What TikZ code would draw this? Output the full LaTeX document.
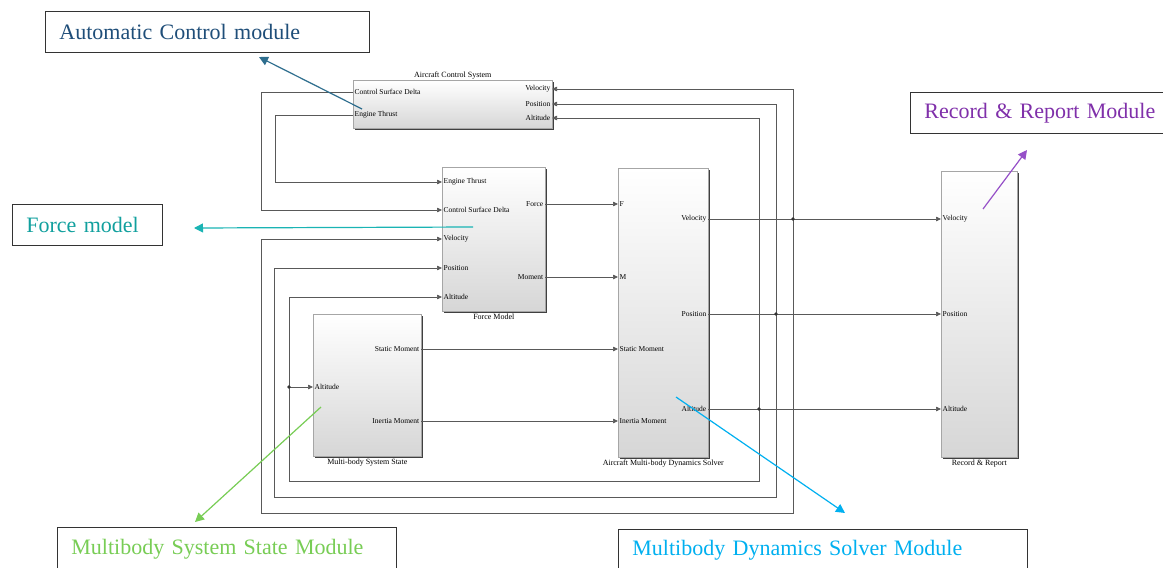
\documentclass[tikz,border=0pt]{standalone}
\usepackage{fontspec}
\setmainfont{Liberation Serif}
\usetikzlibrary{arrows.meta,positioning,shadows}
\definecolor{ControlBlue}{RGB}{31,78,121}
\definecolor{ControlArrow}{RGB}{46,110,142}
\definecolor{ForceTeal}{RGB}{17,160,158}
\definecolor{ForceArrow}{RGB}{26,180,180}
\definecolor{RecordPurple}{RGB}{128,48,170}
\definecolor{RecordArrow}{RGB}{150,80,200}
\definecolor{StateGreen}{RGB}{120,205,85}
\definecolor{SolverCyan}{RGB}{0,176,240}

\begin{document}
\begin{tikzpicture}[x=1pt,y=-1pt,
  blk/.style={draw=gray!70,line width=0.6pt,top color=white,middle color=gray!3,bottom color=gray!32,
    drop shadow={shadow xshift=1.6pt,shadow yshift=-1.6pt,fill=black!75,opacity=1},
    anchor=north west,inner sep=0pt},
  lport/.style={anchor=west,inner sep=1.5pt,font=\fontsize{7.5}{8}\selectfont},
  rport/.style={anchor=east,inner sep=1.5pt,font=\fontsize{7.5}{8}\selectfont},
  title/.style={inner sep=1pt,font=\fontsize{8}{9}\selectfont},
  wire/.style={draw=black!65,line width=0.7pt,-{Triangle[length=5pt,width=4.5pt]}},
  note/.style={draw=black!80,line width=0.8pt,anchor=north west,align=left,inner xsep=14pt,
    text width=#1,minimum height=41pt,font=\fontsize{22}{26}\selectfont},
  pointer/.style={line width=1.2pt,-{Triangle[length=9pt,width=9pt]}}]
  \useasboundingbox (0,0) rectangle (1163,568);
  \fill[white] (0,0) rectangle (1163,568);

  % blocks
  \node[blk,minimum width=199pt,minimum height=48pt] (acs) at (353,80) {};
  \node[blk,minimum width=103pt,minimum height=144pt] (fm) at (442,167) {};
  \node[blk,minimum width=90pt,minimum height=289pt] (solver) at (618,168) {};
  \node[blk,minimum width=108pt,minimum height=142pt] (mss) at (313,314) {};
  \node[blk,minimum width=76pt,minimum height=286pt] (rr) at (941,171) {};
  \node[title,above=0pt of acs] {Aircraft Control System};
  \node[title,below=1pt of fm] {Force Model};
  \node[title,below=1pt of solver] {Aircraft Multi-body Dynamics Solver};
  \node[title,below=1pt of mss] {Multi-body System State};
  \node[title,below=1pt of rr] {Record \& Report};

  % ports
  \node[lport] (aCSD) at (353,92) {Control Surface Delta};
  \node[lport] (aET) at (353,115) {Engine Thrust};
  \node[rport] (aVel) at (552,89) {Velocity};
  \node[rport] (aPos) at (552,104) {Position};
  \node[rport] (aAlt) at (552,118) {Altitude};

  \node[lport] (fET) at (442,182) {Engine Thrust};
  \node[lport] (fCSD) at (442,210) {Control Surface Delta};
  \node[lport] (fVel) at (442,239) {Velocity};
  \node[lport] (fPos) at (442,268) {Position};
  \node[lport] (fAlt) at (442,297) {Altitude};
  \node[rport] (fF) at (545,204) {Force};
  \node[rport] (fM) at (545,277) {Moment};

  \node[lport] (sF) at (618,204) {F};
  \node[lport] (sM) at (618,277) {M};
  \node[lport] (sSM) at (618,349) {Static Moment};
  \node[lport] (sIM) at (618,421) {Inertia Moment};
  \node[rport] (sVel) at (708,219) {Velocity};
  \node[rport] (sPos) at (708,314) {Position};
  \node[rport] (sAlt) at (708,409) {Altitude};

  \node[lport] (mAlt) at (313,387) {Altitude};
  \node[rport] (mSM) at (421,349) {Static Moment};
  \node[rport] (mIM) at (421,421) {Inertia Moment};

  \node[lport] (rVel) at (941,219) {Velocity};
  \node[lport] (rPos) at (941,314) {Position};
  \node[lport] (rAlt) at (941,409) {Altitude};

  % signal lines
  \coordinate (velSplit) at (793,219);
  \coordinate (posSplit) at (776,314);
  \coordinate (altSplit) at (759,409);
  \coordinate (velLow) at (261,513);
  \coordinate (posLow) at (274,497);
  \coordinate (altLow) at (289,481);
  \coordinate (altTap) at (289,387);
  \coordinate (csdBend) at (261,210);
  \coordinate (etBend) at (275,182);

  \draw[wire] (aCSD.west) -| (csdBend) -- (fCSD.west);
  \draw[wire] (aET.west) -| (etBend) -- (fET.west);
  \draw[wire] (fF.east) -- (sF.west);
  \draw[wire] (fM.east) -- (sM.west);
  \draw[wire] (mSM.east) -- (sSM.west);
  \draw[wire] (mIM.east) -- (sIM.west);
  \draw[wire] (sVel.east) -- (rVel.west);
  \draw[wire] (sPos.east) -- (rPos.west);
  \draw[wire] (sAlt.east) -- (rAlt.west);
  \draw[wire] (velSplit) |- (aVel.east);
  \draw[wire] (posSplit) |- (aPos.east);
  \draw[wire] (altSplit) |- (aAlt.east);
  \draw[wire] (velSplit) |- (velLow) |- (fVel.west);
  \draw[wire] (posSplit) |- (posLow) |- (fPos.west);
  \draw[wire] (altSplit) |- (altLow) |- (fAlt.west);
  \draw[wire] (altTap) -- (mAlt.west);
  \foreach \p in {velSplit,posSplit,altSplit,altTap}
    \fill[black!80] (\p) circle (1.8pt);

  % module notes
  \node[note=296pt,text=ControlBlue] (autoNote) at (45,11) {Automatic Control module};
  \node[note=122pt,text=ForceTeal] (forceNote) at (12,204) {Force model};
  \node[note=250pt,text=RecordPurple] (recordNote) at (910,92) {Record \& Report Module};
  \node[note=311pt,text=StateGreen,minimum height=44pt] (stateNote) at (57,527) {Multibody System State Module};
  \node[note=381pt,text=SolverCyan,minimum height=42pt] (solverNote) at (618,529) {Multibody Dynamics Solver Module};

  \coordinate (autoFrom) at (362,109);
  \coordinate (autoTip) at (259,57);
  \coordinate (forceFrom) at (473,227);
  \coordinate (forceTip) at (194,228);
  \coordinate (recordFrom) at (983,209);
  \coordinate (recordTip) at (1027,150);
  \coordinate (stateFrom) at (321,407);
  \coordinate (stateTip) at (195,522);
  \coordinate (solverFrom) at (676,397);
  \coordinate (solverTip) at (845,513);
  \draw[pointer,ControlArrow] (autoFrom) -- (autoTip);
  \draw[pointer,ForceArrow] (forceFrom) -- (forceTip);
  \draw[pointer,RecordArrow] (recordFrom) -- (recordTip);
  \draw[pointer,StateGreen] (stateFrom) -- (stateTip);
  \draw[pointer,SolverCyan] (solverFrom) -- (solverTip);
\end{tikzpicture}
\end{document}
